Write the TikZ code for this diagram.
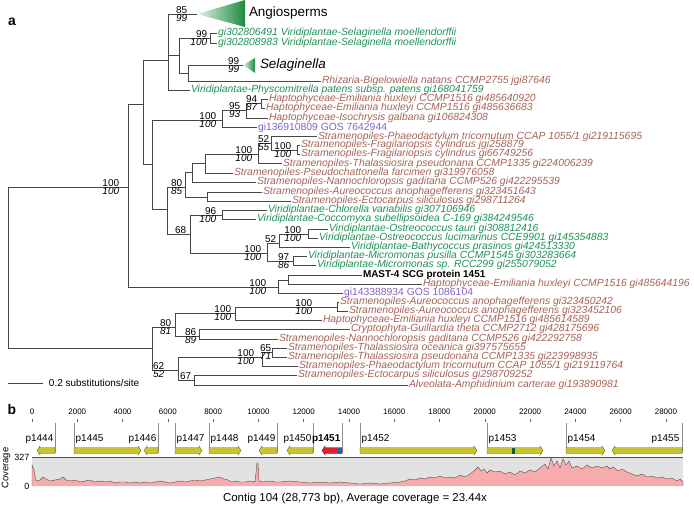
\documentclass[tikz,border=0pt]{standalone}
\usepackage{fontspec}
\setmainfont{Liberation Sans}
\usepackage{tikz}

\definecolor{brn}{RGB}{165,98,86}
\definecolor{grn}{RGB}{32,145,84}
\definecolor{prp}{RGB}{128,98,196}
\definecolor{triG}{RGB}{28,138,62}
\definecolor{geneY}{RGB}{200,196,50}
\definecolor{geneE}{RGB}{110,105,22}
\definecolor{geneR}{RGB}{222,32,44}
\definecolor{geneRE}{RGB}{120,20,20}
\definecolor{geneBl}{RGB}{25,100,170}
\definecolor{geneDk}{RGB}{20,90,50}
\definecolor{covF}{RGB}{246,172,172}
\definecolor{covL}{RGB}{95,75,75}
\definecolor{covB}{RGB}{226,226,226}

\tikzset{
  br/.style={line width=0.6bp, black!72},
  leaf/.style={anchor=west, inner sep=0.8bp, font=\fontsize{10.4}{11}\selectfont\itshape},
  leafB/.style={leaf, text=brn},
  leafG/.style={leaf, text=grn},
  leafP/.style={leaf, text=prp, font=\fontsize{10.4}{11}\selectfont},
  mast/.style={anchor=west, inner sep=0.8bp, font=\fontsize{10}{11}\selectfont\bfseries},
  clade/.style={anchor=west, inner sep=0.8bp, font=\fontsize{13.5}{14}\selectfont},
  bsup/.style={anchor=south east, inner sep=0.7bp, font=\fontsize{10}{11}\selectfont},
  bslow/.style={anchor=north east, inner sep=0.7bp, font=\fontsize{10}{11}\selectfont\itshape},
  panel/.style={font=\fontsize{14}{15}\selectfont\bfseries},
  rul/.style={font=\fontsize{8}{9}\selectfont, inner sep=0.5bp},
  glab/.style={font=\fontsize{10}{11}\selectfont, inner sep=0.5bp},
  gene/.style={fill=geneY, draw=geneE, line width=0.4bp},
  guide/.style={draw=black!45, line width=0.4bp}
}

% bootstrap support above / below a node
\newcommand\boot[4][0]{%
  \node[bsup, xshift=#1bp] (u#2) at (#2) {#3};
  \node[bslow, xshift=#1bp] (d#2) at (#2) {#4};}
% gene arrows
\newcommand\gener[2]{\filldraw[gene] (#1,447.5) -- (#2-3,447.5) -- (#2-3,446) -- (#2,450.5) -- (#2-3,455) -- (#2-3,453.5) -- (#1,453.5) -- cycle;}
\newcommand\genel[2]{\filldraw[gene] (#2,447.5) -- (#1+3,447.5) -- (#1+3,446) -- (#1,450.5) -- (#1+3,455) -- (#1+3,453.5) -- (#2,453.5) -- cycle;}

\begin{document}
\begin{tikzpicture}[x=1bp, y=-1bp]
\useasboundingbox (0,0) rectangle (694,506);

\node[panel] (pa) at (12,22) {a};
\node[panel] (pb) at (12,410) {b};

% internal nodes
\coordinate (nRoot) at (8,267);
\coordinate (nA) at (128,187);
\coordinate (nB) at (152,348);
\coordinate (nC) at (143,104);
\coordinate (nU) at (168,60);
\coordinate (angio) at (197,14);
\coordinate (nW) at (179,55);
\coordinate (nSel) at (210,38);
\coordinate (nX) at (188,73);
\coordinate (selag) at (243,65);
\coordinate (nD) at (152,164);
\coordinate (nH) at (222,120);
\coordinate (nH2) at (246,110);
\coordinate (nH3) at (261,103);
\coordinate (nE) at (167,209);
\coordinate (nS0) at (185,187);
\coordinate (nS1) at (192,172);
\coordinate (nS2) at (205,163);
\coordinate (nS3) at (258,154);
\coordinate (nS4) at (271,143);
\coordinate (nF) at (297,150);
\coordinate (nAE) at (207,197);
\coordinate (nG) at (190,234);
\coordinate (nCC) at (222,215);
\coordinate (nP) at (267,253);
\coordinate (nO) at (279,243);
\coordinate (nOT) at (308,234);
\coordinate (nMi) at (293,261);
\coordinate (nM) at (278,287);
\coordinate (nMM) at (288,280);
\coordinate (nK) at (175,327);
\coordinate (nK1) at (235,313);
\coordinate (nAA) at (337,307);
\coordinate (nK2) at (199,336);
\coordinate (nL) at (178,370);
\coordinate (nT1) at (262,357);
\coordinate (nT2) at (272,352);
\coordinate (nL2) at (194,380);

% collapsed clades
\shade[left color=triG!12, right color=triG] (angio) -- (245,0) -- (245,27) -- cycle;
\node[clade] (angioL) at (248,13) {Angiosperms};
\shade[left color=triG!12, right color=triG] (selag) -- (255,58) -- (255,73) -- cycle;
\node[clade, font=\fontsize{13.5}{14}\selectfont\itshape] (selagL) at (259,65) {Selaginella};

% leaves
\node[leafG] (sel1) at (217,33) {gi302806491 Viridiplantae-Selaginella moellendorffii};
\node[leafG] (sel2) at (217,43) {gi302808983 Viridiplantae-Selaginella moellendorffii};
\node[leafB] (rhiz) at (321,81) {Rhizaria-Bigelowiella natans CCMP2755 jgi87646};
\node[leafG] (phys) at (190,90) {Viridiplantae-Physcomitrella patens subsp. patens gi168041759};
\node[leafB] (ehux1) at (268,99) {Haptophyceae-Emiliania huxleyi CCMP1516 gi485640920};
\node[leafB] (ehux2) at (265,108) {Haptophyceae-Emiliania huxleyi CCMP1516 gi485636683};
\node[leafB] (igal) at (268,118) {Haptophyceae-Isochrysis galbana gi106824308};
\node[leafP] (gos1) at (257,127.5) {gi136910809 GOS 7642944};
\node[leafB] (ptri1) at (317,136.5) {Stramenopiles-Phaeodactylum tricornutum CCAP 1055/1 gi219115695};
\node[leafB] (fcyl1) at (300,145) {Stramenopiles-Fragilariopsis cylindrus jgi258879};
\node[leafB] (fcyl2) at (300,154) {Stramenopiles-Fragilariopsis cylindrus gi66749256};
\node[leafB] (tpse1) at (282,163.5) {Stramenopiles-Thalassiosira pseudonana CCMP1335 gi224006239};
\node[leafB] (pfar) at (233,173) {Stramenopiles-Pseudochattonella farcimen gi319976058};
\node[leafB] (ngad1) at (256,182) {Stramenopiles-Nannochloropsis gaditana CCMP526 gi422295539};
\node[leafB] (aano1) at (262,192) {Stramenopiles-Aureococcus anophagefferens gi323451643};
\node[leafB] (esil1) at (291,201) {Stramenopiles-Ectocarpus siliculosus gi298711264};
\node[leafG] (cvar) at (267,210) {Viridiplantae-Chlorella variabilis gi307106946};
\node[leafG] (csub) at (256,219) {Viridiplantae-Coccomyxa subellipsoidea C-169 gi384249546};
\node[leafG] (otau) at (328,229) {Viridiplantae-Ostreococcus tauri gi308812416};
\node[leafG] (oluc) at (318,238) {Viridiplantae-Ostreococcus lucimarinus CCE9901 gi145354883};
\node[leafG] (bpra) at (350,247) {Viridiplantae-Bathycoccus prasinos gi424513330};
\node[leafG] (mpus) at (307,256) {Viridiplantae-Micromonas pusilla CCMP1545 gi303283664};
\node[leafG] (mrcc) at (316,265) {Viridiplantae-Micromonas sp. RCC299 gi255079052};
\node[mast] (mast) at (362,275) {MAST-4 SCG protein 1451};
\node[leafB] (ehux3) at (422,284) {Haptophyceae-Emiliania huxleyi CCMP1516 gi485644196};
\node[leafP] (gos2) at (343,293) {gi143388934 GOS 1086104};
\node[leafB] (aano2) at (339,302) {Stramenopiles-Aureococcus anophagefferens gi323450242};
\node[leafB] (aano3) at (348,311) {Stramenopiles-Aureococcus anophagefferens gi323452106};
\node[leafB] (ehux4) at (322,320) {Haptophyceae-Emiliania huxleyi CCMP1516 gi485614589};
\node[leafB] (gthe) at (350,329) {Cryptophyta-Guillardia theta CCMP2712 gi428175696};
\node[leafB] (ngad2) at (278,339) {Stramenopiles-Nannochloropsis gaditana CCMP526 gi422292758};
\node[leafB] (toce) at (287,348) {Stramenopiles-Thalassiosira oceanica gi397575655};
\node[leafB] (tpse2) at (287,357) {Stramenopiles-Thalassiosira pseudonana CCMP1335 gi223998935};
\node[leafB] (ptri2) at (298,366) {Stramenopiles-Phaeodactylum tricornutum CCAP 1055/1 gi219119764};
\node[leafB] (esil2) at (297,375) {Stramenopiles-Ectocarpus siliculosus gi298709252};
\node[leafB] (acar) at (408,385) {Alveolata-Amphidinium carterae gi193890981};

% branches
\draw[br] (nRoot) |- (nA) (nRoot) |- (nB);
\draw[br] (nA) |- (nC) (nA) |- (nM);
\draw[br] (nC) |- (nU) (nC) |- (nD);
\draw[br] (nU) |- (angio) (nU) |- (nW) (nU) |- (phys.west);
\draw[br] (nW) |- (nSel) (nW) |- (nX);
\draw[br] (nSel) |- (sel1.west) (nSel) |- (sel2.west);
\draw[br] (nX) |- (selag) (nX) |- (rhiz.west);
\draw[br] (nD) |- (nH) (nD) |- (nE);
\draw[br] (nH) |- (nH2) (nH) |- (gos1.west);
\draw[br] (nH2) |- (nH3) (nH2) |- (igal.west);
\draw[br] (nH3) |- (ehux1.west) (nH3) |- (ehux2.west);
\draw[br] (nE) |- (nS0) (nE) |- (nG);
\draw[br] (nS0) |- (nS1) (nS0) |- (nAE);
\draw[br] (nS1) |- (nS2) (nS1) |- (ngad1.west);
\draw[br] (nS2) |- (nS3) (nS2) |- (pfar.west);
\draw[br] (nS3) |- (nS4) (nS3) |- (tpse1.west);
\draw[br] (nS4) |- (ptri1.west) (nS4) |- (nF);
\draw[br] (nF) |- (fcyl1.west) (nF) |- (fcyl2.west);
\draw[br] (nAE) |- (aano1.west) (nAE) |- (esil1.west);
\draw[br] (nG) |- (nCC) (nG) |- (nP);
\draw[br] (nCC) |- (cvar.west) (nCC) |- (csub.west);
\draw[br] (nP) |- (nO) (nP) |- (nMi);
\draw[br] (nO) |- (nOT) (nO) |- (bpra.west);
\draw[br] (nOT) |- (otau.west) (nOT) |- (oluc.west);
\draw[br] (nMi) |- (mpus.west) (nMi) |- (mrcc.west);
\draw[br] (nM) |- (nMM) (nM) |- (gos2.west);
\draw[br] (nMM) |- (mast.west) (nMM) |- (ehux3.west);
\draw[br] (nB) |- (nK) (nB) |- (nL);
\draw[br] (nK) |- (nK1) (nK) |- (nK2);
\draw[br] (nK1) |- (nAA) (nK1) |- (ehux4.west);
\draw[br] (nAA) |- (aano2.west) (nAA) |- (aano3.west);
\draw[br] (nK2) |- (gthe.west) (nK2) |- (ngad2.west);
\draw[br] (nL) |- (nT1) (nL) |- (nL2);
\draw[br] (nT1) |- (nT2) (nT1) |- (ptri2.west);
\draw[br] (nT2) |- (toce.west) (nT2) |- (tpse2.west);
\draw[br] (nL2) |- (esil2.west) (nL2) |- (acar.west);

% support values
\boot[-8]{nA}{100}{100}
\boot[-9]{angio}{85}{99}
\boot[-2]{nSel}{99}{100}
\boot[-3]{selag}{99}{99}
\boot[-3]{nH3}{94}{87}
\boot[-5]{nH2}{95}{93}
\boot[-5]{nH}{100}{100}
\boot[-1]{nS4}{52}{55}
\boot[-5]{nF}{100}{100}
\boot[-5]{nS3}{100}{100}
\boot[-2]{nS0}{80}{85}
\boot[-5]{nCC}{96}{100}
\node[bsup, xshift=-3bp] (unG) at (nG) {68};
\boot[-5]{nP}{100}{100}
\node[bsup, xshift=-2bp] (unO) at (nO) {52};
\boot[-6]{nOT}{100}{100}
\boot[-3]{nMi}{97}{86}
\boot[-11]{nM}{100}{100}
\boot[-24]{nAA}{100}{100}
\boot[-3]{nK1}{100}{100}
\boot[-3]{nK}{80}{81}
\boot[-2]{nK2}{86}{89}
\boot[-13]{nL}{62}{52}
\boot[-7]{nT1}{100}{100}
\boot[0]{nT2}{65}{71}
\node[bsup, xshift=-2bp] (unL2) at (nL2) {67};

% scale bar
\coordinate (sb0) at (8,383);
\coordinate (sb1) at (43,383);
\draw[br] (sb0) -- (sb1);
\node[anchor=west, inner sep=0.8bp, font=\fontsize{10}{11}\selectfont] (sbl) at (48,383) {0.2 substitutions/site};

% ---- panel b ----
\foreach \k in {0,2,...,28} {
  \pgfmathsetmacro\xx{32+\k*22.64}
  \node[rul] (r\k) at (\xx,412) {\ifnum\k=0 0\else\k000\fi};
  \draw[black!60, line width=0.4bp] (\xx,419) -- (\xx,422);
}

% coverage
\fill[covB] (32,457) rectangle (683,486);
\draw[covL, line width=0.8bp] (32,457) -- (683,457);
\draw[covL, line width=0.4bp, fill=covF] (32,486) -- (32,465) -- (34,470) -- (36,481) -- (40,480) -- (43,477) -- (46,479) -- (50,481) -- (55,480) -- (60,479) -- (63,477) -- (66,480) -- (70,481) -- (75,480) -- (80,482) -- (85,481) -- (90,480) -- (95,482) -- (100,481) -- (105,482) -- (110,481) -- (115,483) -- (120,482) -- (125,482) -- (130,483) -- (135,482) -- (140,483) -- (145,482) -- (150,483) -- (155,482) -- (160,481) -- (165,482) -- (170,483) -- (175,482) -- (180,481) -- (185,482) -- (190,481) -- (195,480) -- (200,481) -- (205,480) -- (210,479) -- (215,478) -- (220,477) -- (224,479) -- (228,480) -- (232,482) -- (236,481) -- (240,482) -- (245,482) -- (250,481) -- (255,482) -- (257,463) -- (258,463) -- (259,481) -- (263,482) -- (270,481) -- (275,482) -- (280,482) -- (290,481) -- (300,482) -- (310,483) -- (320,482) -- (330,483) -- (340,482) -- (350,483) -- (360,484) -- (370,483) -- (380,484) -- (390,483) -- (400,482) -- (405,481) -- (410,479) -- (415,480) -- (420,478) -- (425,479) -- (430,477) -- (435,478) -- (440,476) -- (445,478) -- (450,477) -- (455,478) -- (460,475) -- (465,477) -- (470,474) -- (475,470) -- (478,467) -- (481,471) -- (484,469) -- (487,473) -- (490,470) -- (495,472) -- (500,471) -- (505,474) -- (510,472) -- (515,475) -- (520,471) -- (525,473) -- (530,470) -- (535,472) -- (540,468) -- (545,464) -- (548,469) -- (551,458) -- (554,466) -- (557,461) -- (560,468) -- (563,459) -- (566,465) -- (569,461) -- (572,468) -- (577,466) -- (582,469) -- (587,465) -- (592,468) -- (597,466) -- (602,468) -- (607,466) -- (610,469) -- (613,467) -- (618,471) -- (622,469) -- (627,472) -- (632,474) -- (637,476) -- (642,474) -- (647,477) -- (652,476) -- (657,478) -- (662,477) -- (667,479) -- (672,478) -- (677,481) -- (680,479) -- (683,482) -- (683,486);
\node[glab, anchor=east, font=\fontsize{9}{10}\selectfont] (c327) at (30,457) {327};
\node[glab, anchor=east, font=\fontsize{9}{10}\selectfont] (c0) at (30,486) {0};
\node[glab, rotate=90, font=\fontsize{9.5}{10}\selectfont] (cov) at (6,468) {Coverage};

% gene start marks
\foreach \gx in {55,74,158,175,209,277,313,342,360,487,566,682}
  \draw[guide] (\gx,423) -- (\gx,453);

% genes
\genel{37}{55}
\gener{74}{141}
\genel{144}{158}
\gener{175}{202}
\gener{209}{241}
\genel{259}{277}
\genel{287}{313}
\filldraw[fill=geneR, draw=geneRE, line width=0.4bp] (342,447.5) -- (325,447.5) -- (325,446) -- (322,450.5) -- (325,455) -- (325,453.5) -- (342,453.5) -- cycle;
\fill[geneBl] (338,447.5) rectangle (342,453.5);
\gener{360}{477}
\gener{487}{543}
\fill[geneDk] (512,447.5) rectangle (514.5,453.5);
\gener{566}{605}
\genel{612}{682}

% gene names
\node[glab, anchor=east] (g1444) at (54,439) {p1444};
\node[glab, anchor=west] (g1445) at (75,439) {p1445};
\node[glab, anchor=east] (g1446) at (157,439) {p1446};
\node[glab, anchor=west] (g1447) at (176,439) {p1447};
\node[glab, anchor=west] (g1448) at (210,439) {p1448};
\node[glab, anchor=east] (g1449) at (276,439) {p1449};
\node[glab, anchor=east] (g1450) at (312,439) {p1450};
\node[glab, anchor=east, font=\fontsize{10}{11}\selectfont\bfseries] (g1451) at (341,439) {p1451};
\node[glab, anchor=west] (g1452) at (361,439) {p1452};
\node[glab, anchor=west] (g1453) at (488,439) {p1453};
\node[glab, anchor=west] (g1454) at (567,439) {p1454};
\node[glab, anchor=east] (g1455) at (680,439) {p1455};

\node[font=\fontsize{11.5}{12}\selectfont, inner sep=0.5bp] (cap) at (355,499) {Contig 104 (28,773 bp), Average coverage = 23.44x};
\end{tikzpicture}
\end{document}
